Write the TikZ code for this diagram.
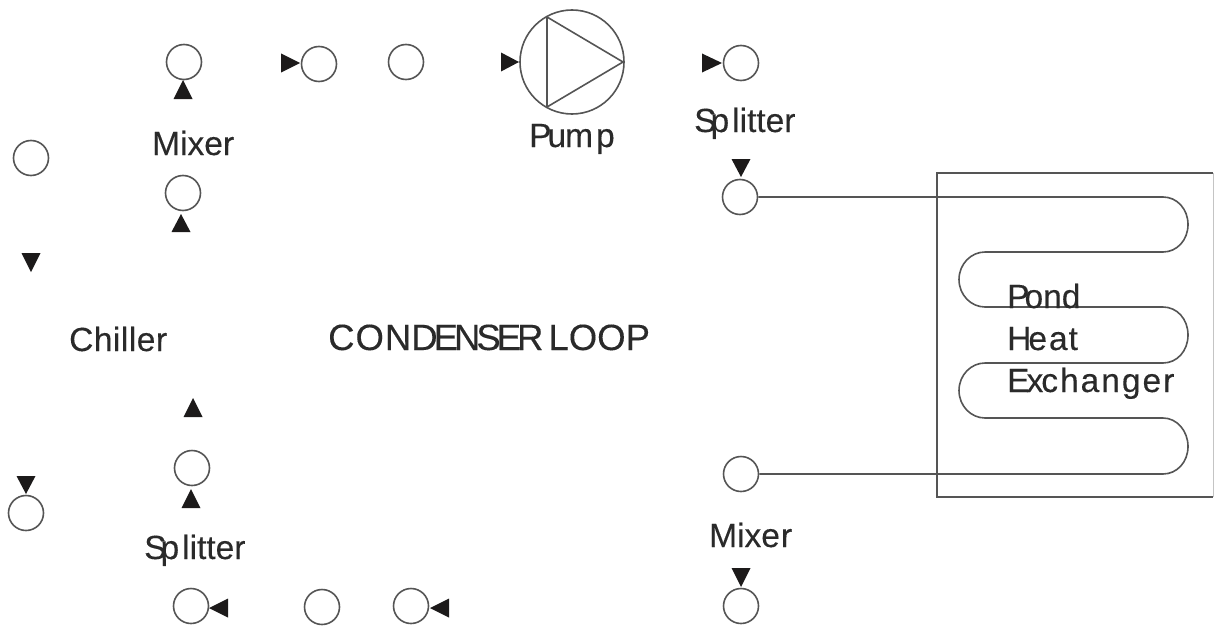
\documentclass[tikz,border=0pt]{standalone}
\usepackage{fontspec}
\setmainfont[FakeBold=0.25]{Liberation Sans}
\definecolor{ln}{HTML}{555555}
\definecolor{tx}{HTML}{2A2A2A}
\definecolor{tri}{HTML}{1C1A1A}
\newcommand{\tdown}[3]{\fill[tri] (#1-9.5,#2) -- (#1+9.5,#2) -- (#1,#3) -- cycle;}
\newcommand{\tup}[3]{\fill[tri] (#1-9.5,#2) -- (#1+9.5,#2) -- (#1,#3) -- cycle;}
\newcommand{\tright}[3]{\fill[tri] (#1,#3-9.5) -- (#1,#3+9.5) -- (#2,#3) -- cycle;}
\newcommand{\tleft}[3]{\fill[tri] (#1,#3-9.5) -- (#1,#3+9.5) -- (#2,#3) -- cycle;}
\tikzset{
  port/.style={circle,draw=ln,line width=1.6pt,minimum size=35pt,inner sep=0pt},
  lab/.style={anchor=base west,inner sep=0pt,text=tx,font=\fontsize{33.5}{40}\selectfont},
  wire/.style={draw=ln,line width=1.6pt},
}
\begin{document}
\begin{tikzpicture}[x=1pt,y=-1pt]
\useasboundingbox (0,0) rectangle (1214,626);
% ports
\node[port] (a) at (184,62) {};
\node[port] (b) at (319,64) {};
\node[port] (c) at (406,62) {};
\node[port] (d) at (741,63) {};
\node[port] (e) at (740,197) {};
\node[port] (f) at (31,158) {};
\node[port] (g) at (183,193) {};
\node[port] (h) at (192,468) {};
\node[port] (i) at (26,513) {};
\node[port] (j) at (191,606) {};
\node[port] (k) at (322,607) {};
\node[port] (l) at (411,606) {};
\node[port] (m) at (741,474) {};
\node[port] (n) at (741,606) {};
% pump
\node[port,minimum size=104pt] (pump) at (572,62) {};
\draw[wire,line join=round] (547,17) -- (547,107) -- (623,62) -- cycle;
% arrowheads
\tup{183}{99}{80}
\tup{181}{232}{214}
\tup{193}{417}{398}
\tup{191}{508}{489}
\tdown{31}{253}{272}
\tdown{26}{476}{494}
\tdown{741}{159}{177}
\tdown{741}{568}{587}
\tright{281}{300}{63}
\tright{501}{519}{62}
\tright{702}{722}{63}
\tleft{228}{209}{608}
\tleft{449}{430}{608}
% heat exchanger box
\node[minimum width=276pt,minimum height=324pt,inner sep=0pt] (box) at (1075,335) {};
\draw[ln!35,line width=1pt] (box.north east) -- (box.south east);
\draw[ln,line width=1.5pt] (box.north east) -- (box.north west) -- (box.south west) -- (box.south east);
% coil
\draw[wire] (e.east) -- (1163,197)
  .. controls (1177,197) and (1188,209) .. (1188,224.5)
  .. controls (1188,240) and (1177,252) .. (1163,252) -- (985,252)
  .. controls (971,252) and (959,264) .. (959,279.5)
  .. controls (959,295) and (971,307) .. (985,307) -- (1163,307)
  .. controls (1177,307) and (1188,319) .. (1188,335)
  .. controls (1188,351) and (1177,363) .. (1163,363) -- (985,363)
  .. controls (971,363) and (959,375) .. (959,390.5)
  .. controls (959,406) and (971,418) .. (985,418) -- (1163,418)
  .. controls (1177,418) and (1188,431) .. (1188,446.5)
  .. controls (1188,462) and (1177,474) .. (1163,474) -- (m.east);
% labels
\node[lab] (t1) at (152,155) {Mixer};
\node[lab] (t2) at (529,147) {P\kern-4pt u\kern-1pt m\kern3pt p};
\node[lab] (t3) at (694,132) {S\kern-6pt p\kern3pt litter};
\node[lab] (t4) at (69,351) {\addfontfeature{LetterSpace=1.5}Chiller};
\node[lab,font=\fontsize{36.5}{40}\selectfont] (t5) at (328,350) {C\kern1pt O\kern1pt N\kern0pt D\kern-4pt E\kern-4pt N\kern-4pt S\kern-4pt E\kern-4pt R\kern-5pt\ L\kern0pt O\kern0pt O\kern0pt P};
\node[lab] (t6) at (1007,308) {P\kern-5pt ond};
\node[lab] (t7) at (1007,350) {H\kern-3pt e\kern2pt a\kern1pt t};
\node[lab] (t8) at (1007,392) {E\kern-3pt x\kern-2pt c\kern2pt h\kern2pt a\kern2pt n\kern2pt g\kern2pt e\kern2pt r};
\node[lab] (t9) at (144,559) {S\kern-6pt p\kern3pt litter};
\node[lab] (t10) at (709,547) {Mixe\kern1pt r};
\end{tikzpicture}
\end{document}
